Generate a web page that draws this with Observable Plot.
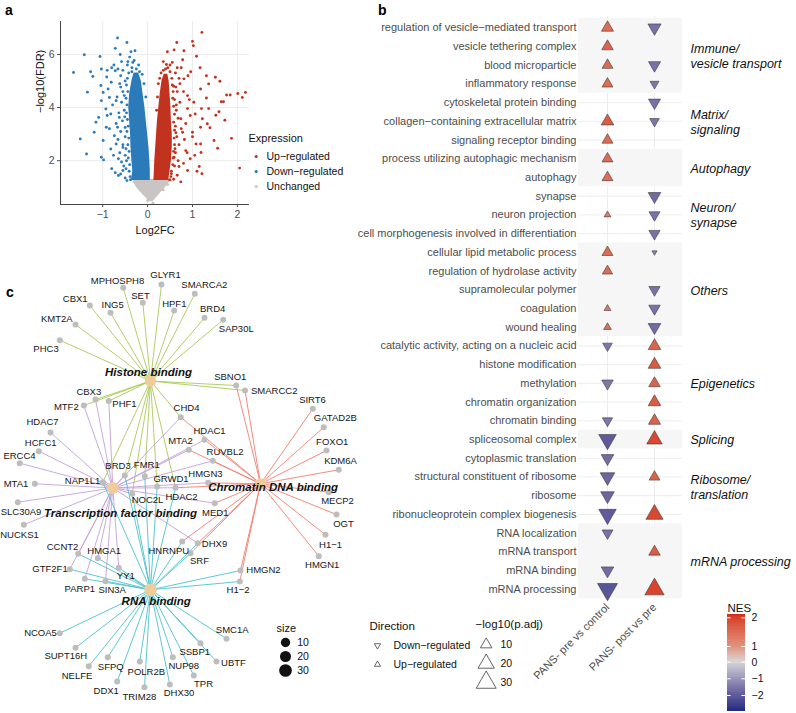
<!DOCTYPE html>
<html><head><meta charset="utf-8">
<script src="https://cdn.jsdelivr.net/npm/d3@7"></script>
<script src="https://cdn.jsdelivr.net/npm/@observablehq/plot@0.6"></script>
<style>
body{margin:0;background:#fff}
#fig{position:relative;width:796px;height:713px;overflow:hidden;background:#fff;font-family:'Liberation Sans',Arial,Helvetica,sans-serif}
.tag{position:absolute;font-weight:bold;font-size:14px;line-height:14px;color:#000}
</style></head>
<body><div id="fig"></div>
<script>
// ---------------- Panel a: volcano data ----------------
const expressionLevels = ["Up−regulated", "Down−regulated", "Unchanged"];
const expressionColors = ["#c2331f", "#2b7bba", "#c9c5c5"];
const volXTicks = [-1, 0, 1, 2];
const volYTicks = [2, 4, 6];
// dense clouds read as envelopes: [ -log10FDR, left log2FC, right log2FC ]
const unchangedCore = [[0.45,0.05,0.12],[0.6,-0.04,0.2],[0.8,-0.15,0.3],[1.0,-0.25,0.4],[1.15,-0.3,0.48],[1.3,-0.3,0.5]];
const downCore = [[1.25,-0.36,0.06],[1.6,-0.33,0.06],[2.0,-0.35,0.05],[2.5,-0.37,0.03],[3.0,-0.38,0.0],[3.5,-0.4,-0.03],[4.0,-0.42,-0.06],[4.5,-0.4,-0.1],[5.0,-0.35,-0.14],[5.3,-0.3,-0.2]];
const upCore = [[1.25,0.14,0.47],[1.6,0.15,0.5],[2.0,0.16,0.53],[2.5,0.18,0.55],[3.0,0.2,0.55],[3.5,0.22,0.53],[4.0,0.25,0.52],[4.5,0.28,0.5],[5.0,0.32,0.48],[5.25,0.37,0.45]];
// scattered genes: [log2FC, -log10FDR]
const downPoints = [[-0.67,6.62],[-0.46,6.45],[-0.72,6.23],[-0.37,6.1],[-0.61,6.0],[-1.41,5.99],[-1.06,5.92],[-1.65,5.32],[-1.27,5.35],[-1.03,5.45],[-1.22,5.17],[-1.34,4.58],[-1.5,2.82],[-1.36,2.25],[-1.15,3.45],[-1.03,4.26],[-0.99,4.57],[-0.93,3.95],[-0.92,3.26],[-1.03,2.13],[-0.98,2.03],[-0.82,2.44],[-0.65,1.44],[-0.55,1.63],[-0.46,1.25],[-0.74,2.94],[-0.81,4.95],[-0.72,5.39],[-0.91,5.15],[-0.58,5.73],[-0.44,5.73],[-0.3,5.77],[-0.28,6.14],[-0.7,4.26],[-0.82,3.76],[-0.67,3.26],[-0.7,2.63],[-0.85,4.38],[-1.19,3.07],[-1.09,3.63],[-0.65,2.07],[-0.63,3.63],[-0.6,4.77],[-1.04,4.83],[-0.99,2.76],[-0.55,2.5],[-0.53,1.8],
[-0.55,5.4],[-0.6,5.2],[-0.5,5.0],[-0.62,4.9],[-0.55,4.6],[-0.68,4.4],[-0.58,4.2],[-0.52,3.9],[-0.64,3.8],[-0.56,3.5],[-0.7,3.4],[-0.6,3.1],[-0.5,2.9],[-0.66,2.8],[-0.55,2.6],[-0.62,2.3],[-0.5,2.2],[-0.58,1.95],[-0.48,1.7],[-0.6,1.5],[-0.5,1.35],[-0.45,5.6],[-0.35,5.5],[-0.25,5.45],[-0.2,5.6],[-0.4,5.9],[-0.33,5.7],[-0.78,4.1],[-0.85,3.2],[-0.76,2.2],[-0.8,1.7],[-0.72,1.55],[-0.88,4.7],[-0.9,5.4],[-0.8,5.5],[-0.75,5.6],[-0.66,5.45],[-0.9,3.7],
[-0.42,5.3],[-0.45,5.1],[-0.47,4.85],[-0.44,4.6],[-0.48,4.35],[-0.46,4.1],[-0.47,3.8],[-0.45,3.55],[-0.43,3.3],[-0.46,3.1],[-0.42,2.85],[-0.44,2.6],[-0.41,2.35],[-0.43,2.1],[-0.4,1.85],[-0.41,1.6],[-0.39,1.4],[-0.38,1.28],[-0.52,4.45],[-0.51,3.65],[-0.5,3.25],[-0.48,2.45],[-0.47,2.0],[-0.12,5.25],[-0.18,5.35],[-0.08,4.9],[-0.04,4.4],[-0.25,5.2],[-0.35,5.35]];
const upPoints = [[1.21,6.83],[0.65,6.45],[1.0,6.49],[1.02,6.33],[0.44,6.1],[0.59,6.17],[0.81,6.14],[1.09,5.93],[0.35,5.73],[0.78,5.8],[1.17,5.5],[1.31,5.2],[1.51,5.14],[1.61,4.99],[1.36,4.89],[2.18,4.57],[2.11,4.38],[2.01,4.53],[1.84,4.47],[1.76,4.47],[1.64,4.22],[1.69,4.22],[1.31,4.36],[1.18,4.7],[1.36,3.96],[1.59,3.84],[1.52,3.71],[1.22,3.58],[1.39,3.24],[1.72,3.52],[1.48,2.76],[1.56,2.47],[1.87,2.84],[2.05,1.72],[1.19,2.31],[1.08,2.63],[1.15,1.78],[1.21,1.51],[0.89,1.63],[0.74,1.2],[0.95,2.07],[1.18,3.26],[1.0,3.07],[0.85,2.38],[1.03,4.2],[0.89,3.96],[0.74,3.58],[0.89,4.45],[0.81,5.08],[0.96,5.35],[0.66,5.5],[0.63,4.77],[0.78,3.07],[0.59,2.13],[0.53,1.51],[0.7,1.78],[1.18,2.63],[1.33,3.39],[1.06,3.76],[1.2,3.96],
[0.62,5.3],[0.7,5.1],[0.58,4.8],[0.66,4.6],[0.6,4.3],[0.72,4.2],[0.64,3.9],[0.68,3.6],[0.62,3.3],[0.75,3.2],[0.65,2.9],[0.7,2.6],[0.62,2.3],[0.68,2.0],[0.6,1.8],[0.66,1.45],[0.58,1.3],[0.45,5.5],[0.5,5.6],[0.55,5.7],[0.4,5.45],[0.3,5.3],[0.27,5.1],[0.75,5.5],[0.8,4.6],[0.85,3.4],[0.82,2.8],[0.88,2.3],[0.8,1.9],[0.72,4.9],[0.93,4.3],[0.95,3.7],[0.9,5.2],[1.0,2.9],[1.05,2.2],[1.1,1.6],
[0.5,5.35],[0.54,5.1],[0.55,4.85],[0.57,4.6],[0.56,4.35],[0.58,4.05],[0.6,3.75],[0.58,3.45],[0.6,3.15],[0.59,2.85],[0.6,2.6],[0.58,2.35],[0.57,2.1],[0.56,1.85],[0.53,1.6],[0.52,1.4],[0.49,1.28],[0.64,4.1],[0.63,3.05],[0.61,2.45],[0.35,5.4],[0.42,5.62],[0.24,4.9],[0.22,4.4],[0.2,3.9]];
const unchangedPoints = [[-0.3,1.2],[-0.22,1.28],[0.52,1.25],[0.45,1.1],[0.0,0.5],[0.12,0.4],[-0.18,0.95],[0.35,0.9]];

// ---------------- Panel b: GSEA dot plot data ----------------
const comparisons = ["PANS- pre vs control", "PANS- post vs pre"];
const terms = ["regulation of vesicle−mediated transport","vesicle tethering complex","blood microparticle","inflammatory response","cytoskeletal protein binding","collagen−containing extracellular matrix","signaling receptor binding","process utilizing autophagic mechanism","autophagy","synapse","neuron projection","cell morphogenesis involved in differentiation","cellular lipid metabolic process","regulation of hydrolase activity","supramolecular polymer","coagulation","wound healing","catalytic activity, acting on a nucleic acid","histone modification","methylation","chromatin organization","chromatin binding","spliceosomal complex","cytoplasmic translation","structural constituent of ribosome","ribosome","ribonucleoprotein complex biogenesis","RNA localization","mRNA transport","mRNA binding","mRNA processing"];
const preNES  = [1.5,1.6,1.5,1.5,null,1.7,1.5,1.5,1.5,null,1.3,null,1.5,1.5,null,1.3,1.4,-1.5,null,-1.5,null,-1.5,-2.0,-1.7,-1.8,-1.8,-2.0,-1.6,null,-1.7,-2.1];
const prePadj = [11,10,9,9,null,12,9,9,9,null,3.5,null,9,8,null,3.5,4.5,7,null,10,null,8,23,12,16,14,23,9,null,12,30];
const postNES  = [-1.6,null,-1.6,-1.5,-1.6,-1.5,null,null,null,-1.7,-1.6,-1.6,-1.3,null,-1.6,-1.6,-1.7,1.6,1.7,1.6,1.7,1.6,1.9,null,1.6,null,1.9,null,1.7,null,1.95];
const postPadj = [13,null,11,6,11,7,null,null,null,12,9,9.5,2,null,9.5,10,12,12,12,10,12,11,18,null,9,null,22,null,10,null,28];
const groupNames = ["Immune/\nvesicle transport","Matrix/\nsignaling","Autophagy","Neuron/\nsynapse","Others","Epigenetics","Splicing","Ribosome/\ntranslation","mRNA processing"];
const groupFirst = [1,5,8,10,13,18,23,24,28];
const groupLast  = [4,7,9,12,17,22,23,27,31];
const groupShaded = [true,false,true,false,true,false,true,false,true];
const directionLevels = ["Down−regulated","Up−regulated"];
const padjLegend = [10,20,30];
const nesTicks = [-2,-1,0,1,2];
const nesStops = [-2.9, 0, 2.2];
const nesColors = ["#1e2a80", "#d6d6d6", "#d3261a"];
// colour-bar tick placement as printed in the figure (NES value -> bar position)
const nesBarValues = [-2.9, -2, -1, 0, 1, 2, 2.2];
const nesBarPos = [116, 100, 83.3, 66.7, 51, 22.3, 19];

// ---------------- Panel c: gene-concept network ----------------
const hubNames = ["Histone binding","Transcription factor binding","Chromatin DNA binding","RNA binding"];
const hubX = [150,112.3,260,150];
const hubY = [380.5,487.5,483.3,589.3];
const hubLabelX = [148,120,272.7,155.7];
const hubLabelY = [371.7,513.3,486.7,600.7];
const hubEdgeColors = ["#a9c957","#c49fdc","#f37e6e","#4bc3cc"];
// [gene, x, y, labelX, labelY]  (layout)
const genes = [
["MPHOSPH8",122.7,287.3,117,280.7],["GLYR1",161,284,165,274.3],["SMARCA2",194.3,293.3,203.8,284],["SET",142.3,302.3,140,295],
["CBX1",89.3,305,74.7,298.3],["ING5",110,312.3,112.2,304],["HPF1",173.7,310,173.8,303.3],["BRD4",204,317.3,212.2,308.3],
["SAP30L",222.7,319.3,235.8,328.3],["KMT2A",75,324,56.3,318.3],["PHC3",59.3,339.7,45.5,348.3],["SBNO1",235.7,385,229.8,376],
["SMARCC2",244.5,390,273.7,390],["CBX3",95,399,88.3,391.5],["MTF2",83.3,405,65.8,406.7],["PHF1",108.3,400.5,124,403.5],
["CHD4",180.3,416.7,186,407.5],["HDAC7",50,432,42,421],["HCFC1",38.3,450.7,40.2,442.3],["ERCC4",19.3,462.7,19,455],
["MTA1",34.3,483.3,15.5,483.3],["NAP1L1",102.3,481.7,82,480],["BRD3",124.3,475,117.5,465],["FMR1",144.3,475.7,146.3,464.3],
["GRWD1",156.7,486,170.5,478.3],["HDAC2",175,487.3,181,496],["HMGN3",207.7,482.3,205,473.3],["NOC2L",131.7,493.3,147,499],
["MED1",214.3,502.7,214.8,512.3],["HDAC1",204,439.3,209,430.5],["MTA2",188.3,449.3,180,440.7],["RUVBL2",212.3,460.3,224.5,451.5],
["SIRT6",312.3,408.3,312,399],["GATAD2B",323.3,426.7,334.8,417.7],["FOXO1",326,450,331.7,441.7],["KDM6A",338.3,469.3,340,460.7],
["MECP2",328.3,491.7,337,500],["OGT",336,514,343,523.3],["H1−1",325,534.3,330,544.3],["HMGN1",318.3,555.7,321.7,564.3],
["SLC30A9",17.3,501.7,20.5,511.7],["NUCKS1",23.3,524.3,19,534],["HNRNPU",181.7,541,168.3,550.7],["DHX9",197.3,542.7,214,543.3],
["SRF",190,552.7,199,560],["CCNT2",77.7,553.3,62,546.7],["HMGA1",97.3,557.7,103.7,550],["GTF2F1",69.3,568.7,49.5,568.3],
["YY1",118.3,567.3,125.3,575],["PARP1",84.3,578.3,79.3,588.3],["SIN3A",105,580.7,111.7,589],["HMGN2",240,570,263,569.3],
["H1−2",239.3,581,237.5,589.3],["NCOA5",59.3,632.7,40,632.3],["SUPT16H",75,647.3,65.3,655.7],["NELFE",88.3,665.7,76.5,675.7],
["SFPQ",107.3,656.7,110.3,666.7],["DDX1",116.7,681,105.7,690.7],["POLR2B",139.3,661,145.8,671],["TRIM28",144,686.7,138.8,696],
["NUP98",172.3,656.7,183.3,665],["DHX30",169.3,684,178.5,692.3],["TPR",193.3,675,203,683.3],["SSBP1",200,642.7,194.2,651.7],
["UBTF",216,661,233,662.7],["SMC1A",226,638.3,231.7,629.3]];
const histoneGenes = ["MPHOSPH8","GLYR1","SMARCA2","SET","CBX1","ING5","HPF1","BRD4","SAP30L","KMT2A","PHC3","SBNO1","SMARCC2","CBX3","MTF2","PHF1","CHD4","BRD3","NAP1L1","FMR1","NOC2L","GRWD1","HDAC2"];
const tfGenes = ["CBX3","MTF2","PHF1","HDAC7","HCFC1","ERCC4","MTA1","SLC30A9","NUCKS1","NAP1L1","BRD3","NOC2L","HDAC2","HMGN3","MED1","MTA2","HDAC1","RUVBL2","CHD4","DHX9","CCNT2","GTF2F1","PARP1","SIN3A","YY1","HMGA1"];
const chromatinGenes = ["SBNO1","SMARCC2","CHD4","HDAC1","MTA2","RUVBL2","HMGN3","HDAC2","MED1","SIRT6","GATAD2B","FOXO1","KDM6A","MECP2","OGT","H1−1","HMGN1","HMGN2","H1−2","HNRNPU","DHX9","SRF"];
const rnaGenes = ["NCOA5","SUPT16H","NELFE","SFPQ","DDX1","POLR2B","TRIM28","NUP98","DHX30","TPR","SSBP1","UBTF","SMC1A","HMGN2","H1−2","HNRNPU","DHX9","SRF","CCNT2","GTF2F1","YY1","SIN3A","PARP1","HMGA1","BRD3","FMR1","GRWD1","HDAC2","NOC2L","NAP1L1"];
const sizeLegend = [10,20,30];

// ---------------- helpers ----------------
const FONT = "'Liberation Sans', Arial, Helvetica, sans-serif";
const fig = document.getElementById("fig");
function place(el, left, top) {
  el.style.position = "absolute"; el.style.left = left + "px"; el.style.top = top + "px";
  fig.appendChild(el); return el;
}
function tag(t, left, top) { const d = document.createElement("div"); d.className = "tag"; d.textContent = t; place(d, left, top); }
const fmt = d => (d < 0 ? "−" + Math.abs(d) : String(d));
const baseStyle = {background: "transparent", fontFamily: FONT, overflow: "visible"};
const triangleDown = {
  draw(context, size) {
    const s3 = Math.sqrt(3);
    const y = -Math.sqrt(size / (s3 * 3));
    context.moveTo(0, -y * 2);
    context.lineTo(-s3 * y, y);
    context.lineTo(s3 * y, y);
    context.closePath();
  }
};
const colorSpec = {type: "linear", domain: nesStops, range: nesColors, interpolate: "lab"};
const rSpec = {type: "sqrt", domain: [0, 30], range: [0, 7.42]};

// ---------------- Panel a ----------------
const xDomA = [-1.94, 2.27], yDomA = [0.35, 7.24];
const coreMark = (data, color) => Plot.areaX(data, {y: d => d[0], x1: d => d[1], x2: d => d[2], fill: color, curve: "linear"});
const ptMark = (data, color) => Plot.dot(data, {x: d => d[0], y: d => d[1], r: 1.45, fill: color});
const plotA = Plot.plot({
  width: 260, height: 235, marginLeft: 60, marginRight: 11, marginTop: 21, marginBottom: 31,
  style: baseStyle,
  x: {domain: xDomA}, y: {domain: yDomA},
  marks: [
    Plot.gridX({ticks: volXTicks, stroke: "#ececec", strokeOpacity: 1}),
    Plot.gridY({ticks: volYTicks, stroke: "#ececec", strokeOpacity: 1}),
    coreMark(unchangedCore, expressionColors[2]),
    ptMark(unchangedPoints, expressionColors[2]),
    coreMark(downCore, expressionColors[1]),
    ptMark(downPoints, expressionColors[1]),
    coreMark(upCore, expressionColors[0]),
    ptMark(upPoints, expressionColors[0]),
    Plot.ruleX([xDomA[0]], {stroke: "#444"}),
    Plot.ruleY([yDomA[0]], {stroke: "#444"}),
    Plot.axisX({ticks: volXTicks, tickFormat: fmt, tickSize: 3, tickPadding: 3, fontSize: 10.5, color: "#4d4d4d", label: null}),
    Plot.axisY({ticks: volYTicks, tickFormat: fmt, tickSize: 3, tickPadding: 3, fontSize: 10.5, color: "#4d4d4d", label: null}),
    Plot.text(["Log2FC"], {frameAnchor: "bottom", dy: 26, fontSize: 11, fill: "#111", lineAnchor: "middle"}),
    Plot.text(["−log10(FDR)"], {frameAnchor: "left", dx: -20, rotate: -90, fontSize: 11, fill: "#111"})
  ]
});
place(plotA, 0, 0);

const legA = Plot.plot({
  width: 110, height: 66, margin: 0, style: baseStyle,
  y: {type: "point", domain: expressionLevels, range: [27.7, 57.7], padding: 0, axis: null},
  color: {domain: expressionLevels, range: expressionColors},
  marks: [
    Plot.text(["Expression"], {frameAnchor: "top-left", dx: 10, dy: 10, fontSize: 11, fill: "#111", textAnchor: "start", lineAnchor: "middle"}),
    Plot.dot(expressionLevels, {y: d => d, frameAnchor: "left", dx: 17.7, r: 1.6, fill: d => d}),
    Plot.text(expressionLevels, {y: d => d, text: d => d, frameAnchor: "left", dx: 28, textAnchor: "start", fontSize: 10.5, fill: "#111"})
  ]
});
place(legA, 238, 128);

// ---------------- Panel b ----------------
const rowIdx = terms.map((t, i) => i + 1);
const cells = [];
terms.forEach((t, i) => {
  if (preNES[i] != null) cells.push({comparison: comparisons[0], row: i + 1, nes: preNES[i], padj: prePadj[i]});
  if (postNES[i] != null) cells.push({comparison: comparisons[1], row: i + 1, nes: postNES[i], padj: postPadj[i]});
});
const groups = groupNames.map((g, i) => ({name: g, first: groupFirst[i], last: groupLast[i], shaded: groupShaded[i]}));
const plotB = Plot.plot({
  width: 426, height: 713, marginLeft: 208, marginRight: 114, marginTop: 16, marginBottom: 113,
  style: baseStyle,
  x: {type: "point", domain: comparisons, padding: 0.6},
  y: {type: "linear", domain: [0.4, 31.6], reverse: true},
  r: rSpec,
  color: colorSpec,
  marks: [
    Plot.gridY({ticks: rowIdx, stroke: "#ebebeb", strokeOpacity: 1, strokeWidth: 0.9}),
    Plot.gridX({stroke: "#ebebeb", strokeOpacity: 1, strokeWidth: 0.9}),
    Plot.rect(groups.filter(g => g.shaded), {y1: g => g.first - 0.5, y2: g => g.last + 0.5, fill: "#f6f6f6"}),
    Plot.axisY({ticks: rowIdx, tickFormat: i => terms[i - 1], tickSize: 0, tickPadding: 2, fontSize: 11, color: "#4d4d4d", label: null}),
    Plot.axisX({tickRotate: -45, tickSize: 0, tickPadding: 5, fontSize: 11, color: "#4d4d4d", label: null}),
    Plot.dot(cells.filter(d => d.nes > 0), {x: "comparison", y: "row", r: "padj", fill: "nes", symbol: "triangle", stroke: "#3d3d3d", strokeWidth: 0.6}),
    Plot.dot(cells.filter(d => d.nes < 0), {x: "comparison", y: "row", r: "padj", fill: "nes", symbol: triangleDown, stroke: "#3d3d3d", strokeWidth: 0.6}),
    Plot.text(groups, {y: g => (g.first + g.last) / 2, text: "name", frameAnchor: "right", dx: 8, textAnchor: "start", lineAnchor: "middle", fontStyle: "italic", fontSize: 12.5, lineHeight: 1.2, fill: "#111"})
  ]
});
place(plotB, 370, 0);

const legDir = Plot.plot({
  width: 110, height: 62, margin: 0, style: baseStyle,
  y: {type: "point", domain: directionLevels, range: [33, 52.3], padding: 0, axis: null},
  marks: [
    Plot.text(["Direction"], {frameAnchor: "top-left", dx: 9, dy: 13.7, fontSize: 11.5, fill: "#111", textAnchor: "start", lineAnchor: "middle"}),
    Plot.dot([directionLevels[0]], {y: d => d, frameAnchor: "left", dx: 17, r: 2.3, symbol: triangleDown, stroke: "#444", fill: "none", strokeWidth: 0.8}),
    Plot.dot([directionLevels[1]], {y: d => d, frameAnchor: "left", dx: 17, r: 2.3, symbol: "triangle", stroke: "#444", fill: "none", strokeWidth: 0.8}),
    Plot.text(directionLevels, {y: d => d, text: d => d, frameAnchor: "left", dx: 33, textAnchor: "start", fontSize: 10.5, fill: "#111"})
  ]
});
place(legDir, 360, 612);

const legP = Plot.plot({
  width: 90, height: 85, margin: 0, style: baseStyle,
  y: {type: "point", domain: padjLegend, range: [32, 70.7], padding: 0, axis: null},
  r: rSpec,
  marks: [
    Plot.text(["−log10(p.adj)"], {frameAnchor: "top-left", dx: 5, dy: 12, fontSize: 11.5, fill: "#111", textAnchor: "start", lineAnchor: "middle"}),
    Plot.dot(padjLegend, {y: d => d, r: d => d, frameAnchor: "left", dx: 15.7, symbol: "triangle", stroke: "#555", fill: "none", strokeWidth: 0.9}),
    Plot.text(padjLegend, {y: d => d, text: d => String(d), frameAnchor: "left", dx: 30, textAnchor: "start", fontSize: 10.5, fill: "#111"})
  ]
});
place(legP, 470, 612);

const nesStep = 0.05;
const nesRamp = d3.range(nesStops[0], nesStops[2], nesStep);
const colorbar = Plot.plot({
  width: 96, height: 118, marginLeft: 27, marginRight: 51, marginTop: 19, marginBottom: 2,
  style: baseStyle,
  x: {type: "linear", domain: [0, 1], axis: null},
  y: {type: "linear", domain: nesBarValues, range: nesBarPos},
  color: colorSpec,
  marks: [
    Plot.rect(nesRamp, {x1: 0, x2: 1, y1: d => d, y2: d => Math.min(d + nesStep * 1.6, nesStops[2]), fill: d => d + nesStep / 2, shapeRendering: "crispEdges"}),
    Plot.ruleY(nesTicks, {x1: 0, x2: 0.2, stroke: "white", strokeWidth: 1}),
    Plot.ruleY(nesTicks, {x1: 0.8, x2: 1, stroke: "white", strokeWidth: 1}),
    Plot.axisY({anchor: "right", ticks: nesTicks, tickFormat: fmt, tickSize: 0, tickPadding: 6, fontSize: 10.5, color: "#111", label: null}),
    Plot.text(["NES"], {frameAnchor: "top-left", dy: -11, textAnchor: "start", fontSize: 11.5, fill: "#111"})
  ]
});
place(colorbar, 700, 595);

// ---------------- Panel c ----------------
const geneIndex = new Map(genes.map(g => [g[0], g]));
const membership = [histoneGenes, tfGenes, chromatinGenes, rnaGenes];
const edges = [];
membership.forEach((list, h) => list.forEach(name => {
  const g = geneIndex.get(name);
  if (g) edges.push({hub: hubNames[h], x1: g[1], y1: g[2], x2: hubX[h], y2: hubY[h]});
}));
const hubs = hubNames.map((n, i) => ({name: n, x: hubX[i], y: hubY[i], lx: hubLabelX[i], ly: hubLabelY[i], size: membership[i].length}));
const sizeSpec = {type: "linear", domain: [10, 30], range: [4.65, 6.35]};
const plotC = Plot.plot({
  width: 370, height: 443, margin: 0, style: baseStyle,
  x: {type: "linear", domain: [0, 370], range: [0, 370], axis: null},
  y: {type: "linear", domain: [270, 713], range: [0, 443], axis: null},
  color: {domain: hubNames, range: hubEdgeColors},
  r: sizeSpec,
  marks: [
    Plot.link(edges, {x1: "x1", y1: "y1", x2: "x2", y2: "y2", stroke: "hub", strokeWidth: 0.9}),
    Plot.dot(genes, {x: d => d[1], y: d => d[2], r: 3, fill: "#bdbdbd"}),
    Plot.dot(hubs, {x: "x", y: "y", r: "size", fill: "#f0cc9a"}),
    Plot.text(genes, {x: d => d[3], y: d => d[4], text: d => d[0], fontSize: 9.5, fill: "#151515"}),
    Plot.text(hubs, {x: "lx", y: "ly", text: "name", fontSize: 11.5, fontWeight: "bold", fontStyle: "italic", fill: "#111"})
  ]
});
place(plotC, 0, 270);

const legC = Plot.plot({
  width: 60, height: 66, margin: 0, style: baseStyle,
  y: {type: "point", domain: sizeLegend, range: [24.7, 53.7], padding: 0, axis: null},
  r: sizeSpec,
  marks: [
    Plot.text(["size"], {frameAnchor: "top-left", dx: 4, dy: 11, textAnchor: "start", lineAnchor: "middle", fontSize: 11, fill: "#111"}),
    Plot.dot(sizeLegend, {y: d => d, r: d => d, frameAnchor: "left", dx: 13, fill: "#111"}),
    Plot.text(sizeLegend, {y: d => d, text: d => String(d), frameAnchor: "left", dx: 24.7, textAnchor: "start", fontSize: 10.5, fill: "#111"})
  ]
});
place(legC, 272, 617);

tag("a", 5, 3);
tag("b", 378, 3);
tag("c", 6, 285);
</script>
</body></html>
